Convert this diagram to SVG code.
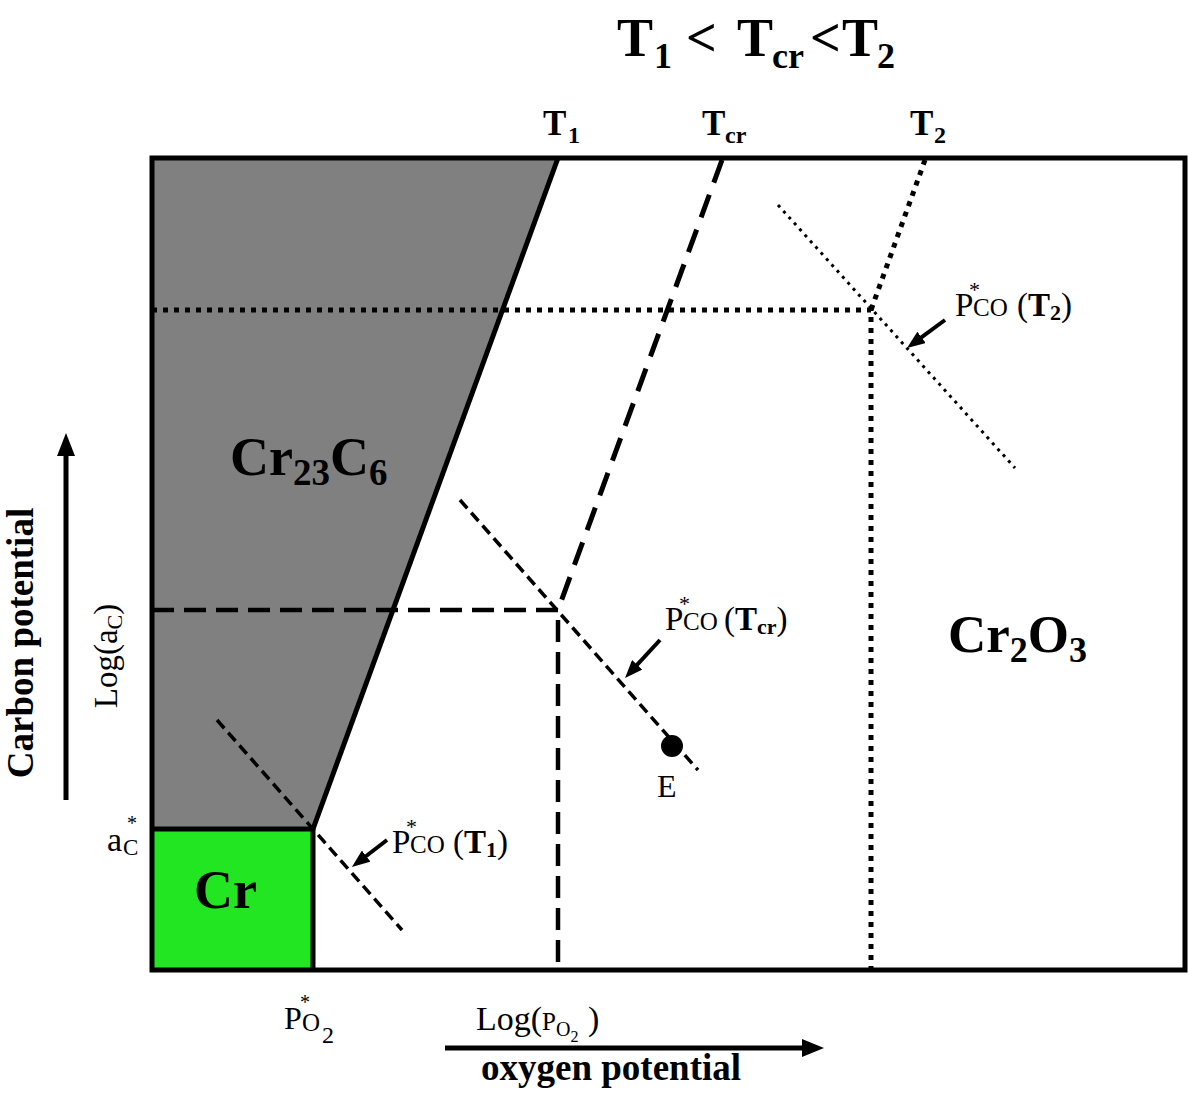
<svg xmlns="http://www.w3.org/2000/svg" width="1188" height="1095" viewBox="0 0 1188 1095">
<style>
text{font-family:"Liberation Serif","Times New Roman","DejaVu Serif",serif;fill:#000}
.b{font-weight:bold}
.ln{fill:none;stroke:#000;stroke-linecap:butt}
.solid{stroke-width:5}
.dashT{stroke-width:5;stroke-dasharray:24 13}
.dashH{stroke-width:4.5;stroke-dasharray:22 10}
.dashP{stroke-width:3.5;stroke-dasharray:11 6}
.dotT{stroke-width:5;stroke-dasharray:5 6}
.dotP{stroke-width:3;stroke-dasharray:3 5}
.ptr{fill:none;stroke:#000;stroke-width:4;marker-end:url(#ah)}
</style>
<defs>
<marker id="ah" markerWidth="18" markerHeight="14" refX="4" refY="7" orient="auto" markerUnits="userSpaceOnUse">
<path d="M0,0 L18,7 L0,14 z" fill="#000"/>
</marker>
</defs>
<rect width="1188" height="1095" fill="#fff"/>

<g id="region-Cr23C6">
<polygon points="152,158 558,158 313,829 152,829" fill="#808080"/>
<text class="b" font-size="54"><tspan x="230" y="475">Cr</tspan><tspan font-size="37" dy="10">23</tspan><tspan dy="-10">C</tspan><tspan font-size="37" dy="10">6</tspan></text>
</g>
<g id="region-Cr">
<rect x="152" y="829" width="161" height="141" fill="#22e622"/>
<text class="b" font-size="54" x="194" y="908">Cr</text>
</g>
<g id="region-Cr2O3">
<text class="b" font-size="53"><tspan x="948" y="652">Cr</tspan><tspan font-size="36" dy="10">2</tspan><tspan dy="-10">O</tspan><tspan font-size="36" dy="10">3</tspan></text>
</g>

<g id="connectors">
<path class="ln solid" d="M152,829 H313 V970"/>
<path class="ln solid" d="M558,158 L313,829"/>
<path class="ln dashT" d="M722,160 L558,610"/>
<path class="ln dashH" d="M152,610 H558 V970"/>
<path class="ln dashP" d="M460,500 L698,770"/>
<path class="ln dashP" d="M217,720 L402,930"/>
<path class="ln dotT" d="M925,160 L871,310"/>
<path class="ln dotT" d="M152,310 H871 V970"/>
<path class="ln dotP" d="M778,205 L1015,468"/>
<path class="ptr" d="M387,840 L363,858.5"/>
<path class="ptr" d="M660,640 L634.5,667.7"/>
<path class="ptr" d="M945,320 L918.3,339.7"/>
<path class="ln" stroke-width="5" d="M445,1048 H805"/>
<polygon points="802,1039 824,1048 802,1057" fill="#000"/>
<path class="ln" stroke-width="5" d="M66,800 V455"/>
<polygon points="57,456 66,433 75,456" fill="#000"/>
</g>

<g id="frame">
<rect x="152" y="158" width="1033" height="812" fill="none" stroke="#000" stroke-width="5"/>
</g>

<g id="point-E">
<circle cx="672" cy="746" r="11" fill="#000"/>
<text x="657" y="797" font-size="32">E</text>
</g>

<g id="title">
<text class="b" font-size="54"><tspan x="617" y="56">T</tspan><tspan x="654" y="68" font-size="36">1</tspan><tspan x="686" y="56">&lt;</tspan><tspan x="737" y="56">T</tspan><tspan x="772" y="68" font-size="36">cr</tspan><tspan x="810" y="56">&lt;</tspan><tspan x="842" y="56">T</tspan><tspan x="877" y="68" font-size="36">2</tspan></text>
</g>

<g id="temp-labels">
<text class="b" font-size="35"><tspan x="543" y="135">T</tspan><tspan x="568" y="143" font-size="24">1</tspan></text>
<text class="b" font-size="35"><tspan x="702" y="135">T</tspan><tspan x="725" y="143" font-size="24">cr</tspan></text>
<text class="b" font-size="35"><tspan x="910" y="135">T</tspan><tspan x="934" y="143" font-size="24">2</tspan></text>
</g>

<g id="label-PCO-T1">
<text font-size="33"><tspan x="392" y="853">P</tspan><tspan x="406" y="834" font-size="22">*</tspan><tspan x="410" y="853" font-size="25">CO</tspan><tspan x="453" y="853">(</tspan><tspan class="b">T</tspan><tspan class="b" font-size="22" dy="4">1</tspan><tspan dy="-4">)</tspan></text>
</g>
<g id="label-PCO-Tcr">
<text font-size="33"><tspan x="665" y="630">P</tspan><tspan x="679" y="611" font-size="22">*</tspan><tspan x="683" y="630" font-size="25">CO</tspan><tspan x="724" y="630">(</tspan><tspan class="b">T</tspan><tspan class="b" font-size="22" dy="4">cr</tspan><tspan dy="-4">)</tspan></text>
</g>
<g id="label-PCO-T2">
<text font-size="33"><tspan x="955" y="316">P</tspan><tspan x="969" y="297" font-size="22">*</tspan><tspan x="973" y="316" font-size="25">CO</tspan><tspan x="1017" y="316">(</tspan><tspan class="b">T</tspan><tspan class="b" font-size="22" dy="4">2</tspan><tspan dy="-4">)</tspan></text>
</g>

<g id="axis-labels">
<text font-size="34"><tspan x="107" y="851">a</tspan><tspan x="127" y="830" font-size="20">*</tspan><tspan x="123" y="855" font-size="23">C</tspan></text>
<text font-size="32"><tspan x="284" y="1029">P</tspan><tspan x="300" y="1009" font-size="20">*</tspan><tspan x="302" y="1031" font-size="25">O</tspan><tspan x="322" y="1043" font-size="24">2</tspan></text>
<text font-size="34"><tspan x="476" y="1030">Log(</tspan><tspan font-size="25">P</tspan><tspan font-size="20" dy="6">O</tspan><tspan font-size="16" dy="6">2</tspan><tspan x="588" y="1030">)</tspan></text>
<text class="b" font-size="37" x="481" y="1080">oxygen potential</text>
<text class="b" font-size="37" text-anchor="middle" transform="translate(33,643) rotate(-90)">Carbon potential</text>
<text font-size="33" text-anchor="middle" transform="translate(117,656) rotate(-90)">Log(a<tspan font-size="22" dy="5">C</tspan><tspan dy="-5">)</tspan></text>
</g>
</svg>
